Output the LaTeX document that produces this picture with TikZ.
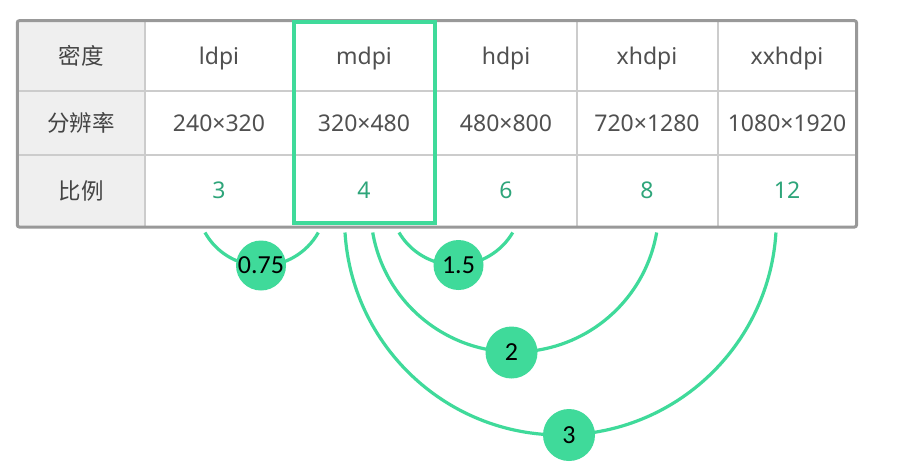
\documentclass[tikz,border=0pt]{standalone}
\usepackage{fontspec}
\setmainfont{Noto Sans}
\newfontfamily\cjk{Noto Sans CJK SC}
\newfontfamily\bubfont{Carlito}
\definecolor{grn}{HTML}{3FDA9A}
\definecolor{grntxt}{HTML}{2EA57A}
\definecolor{txtc}{HTML}{505050}
\definecolor{hdrtxt}{HTML}{444444}
\definecolor{hdrfill}{HTML}{EFEFEF}
\definecolor{outerc}{HTML}{999999}
\definecolor{innerc}{HTML}{CCCCCC}
\begin{document}
\begin{tikzpicture}[x=1pt,y=1pt,
  cell/.style={font=\fontsize{23}{27}\selectfont, text=txtc, inner sep=0pt, anchor=base},
  hcell/.style={cell, font=\cjk\fontsize{22.5}{26}\selectfont, text=hdrtxt},
  ncell/.style={cell, text=grntxt},
  bubble/.style={circle, fill=grn, minimum size=50pt, inner sep=0pt, font=\bubfont\fontsize{26}{30}\selectfont, text=black},
  arcline/.style={draw=grn, line width=3.2pt},
  gridline/.style={draw=innerc, line width=2pt},
]
\useasboundingbox (0,0) rectangle (912,-471);
\fill[white] (0,0) rectangle (912,-471);
% header column fill
\fill[hdrfill] (17.3,-20.7) rectangle (145,-227);
% inner grid
\draw[gridline] (17.3,-90.7) -- (856.5,-90.7);
\draw[gridline] (17.3,-155.3) -- (856.5,-155.3);
\draw[gridline] (145,-20.7) -- (145,-227);
\draw[gridline] (577,-20.7) -- (577,-227);
\draw[gridline] (717.5,-20.7) -- (717.5,-227);
% outer border
\draw[outerc, line width=3pt, rounded corners=2pt] (17.3,-20.7) rectangle (856.5,-227);
% highlight box
\draw[grn, line width=4pt] (293.7,-22.3) rectangle (435,-222.5);

% row 1
\node[hcell] (h1) at (81,-64.3) {密度};
\node[cell] (c11) at (219,-64.3) {ldpi};
\node[cell] (c12) at (364,-64.3) {mdpi};
\node[cell] (c13) at (506,-64.3) {hdpi};
\node[cell] (c14) at (647,-64.3) {xhdpi};
\node[cell] (c15) at (787,-64.3) {xxhdpi};
% row 2
\node[hcell] (h2) at (81,-131.8) {分辨率};
\node[cell] (c21) at (219,-131.8) {240×320};
\node[cell] (c22) at (364,-131.8) {320×480};
\node[cell] (c23) at (506,-131.8) {480×800};
\node[cell] (c24) at (647,-131.8) {720×1280};
\node[cell] (c25) at (787,-131.8) {1080×1920};
% row 3
\node[hcell] (h3) at (81,-199) {比例};
\node[ncell] (c31) at (219,-198.5) {3};
\node[ncell] (c32) at (364,-198.5) {4};
\node[ncell] (c33) at (506,-198.5) {6};
\node[ncell] (c34) at (647,-198.5) {8};
\node[ncell] (c35) at (787,-198.5) {12};

% arc end points
\coordinate (s075) at (205,-232.5);
\coordinate (s15) at (399,-232.5);
\coordinate (s2) at (372.7,-232.5);
\coordinate (s3) at (345,-232.5);

\draw[arcline] (s075) arc[start angle=209.2, end angle=330.8, radius=64.9];
\draw[arcline] (s15) arc[start angle=210.5, end angle=329.5, radius=66];
\draw[arcline] (s2) arc[start angle=189.83, end angle=350.17, radius=144.1];
\draw[arcline] (s3) arc[start angle=183.56, end angle=356.44, radius=215.9];

\node[bubble] (b075) at (261,-265.5) {0.75};
\node[bubble] (b15) at (458.5,-265) {1.5};
\node[bubble, minimum size=52pt] (b2) at (511.5,-352.5) {2};
\node[bubble, minimum size=52pt] (b3) at (569,-435) {3};
\end{tikzpicture}
\end{document}
